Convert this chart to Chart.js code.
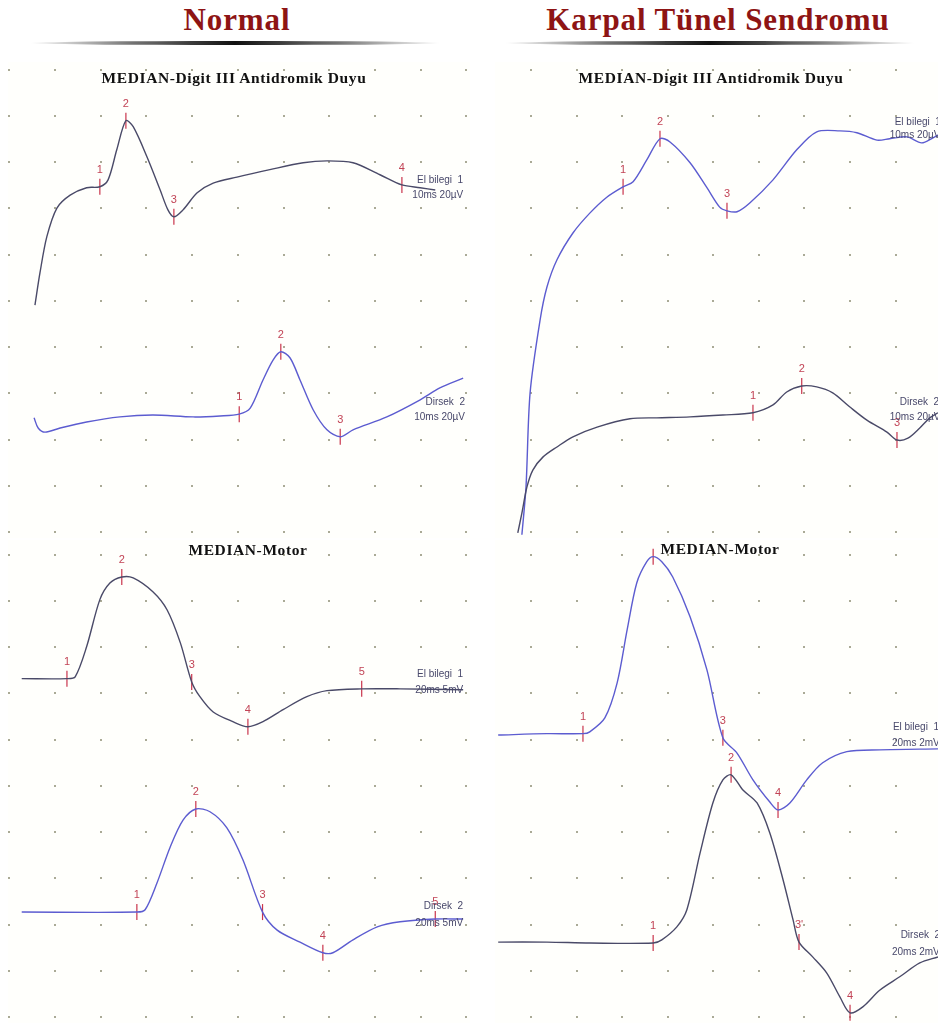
<!DOCTYPE html>
<html>
<head>
<meta charset="utf-8">
<script src="https://cdn.jsdelivr.net/npm/chart.js@4.4.1/dist/chart.umd.min.js"></script>
<style>
  body { margin: 0; width: 938px; height: 1023px; background: #fff; position: relative; overflow: hidden; font-family: 'Liberation Serif', serif; }
  .hdr { position: absolute; top: 4px; font-weight: bold; color: #8e1414; font-size: 31px; line-height: 1; text-align: center; width: 460px; letter-spacing: 0.9px; }
  .rule { position: absolute; top: 41px; height: 4px; border-radius: 50%;
          background: linear-gradient(to right, rgba(0,0,0,0), rgba(0,0,0,0.55) 25%, #111 50%, rgba(0,0,0,0.55) 75%, rgba(0,0,0,0)); }
  canvas { position: absolute; }
  .ttl { position: absolute; font-weight: bold; font-size: 15.5px; line-height: 1; color: #111; text-align: center; width: 400px; z-index: 2; letter-spacing: 0.6px; }
</style>
</head>
<body>
<div class="hdr" style="left:7px">Normal</div>
<div class="hdr" style="left:488px">Karpal Tünel Sendromu</div>
<div class="rule" style="left:30px;width:410px"></div>
<div class="rule" style="left:505px;width:410px"></div>
<div class="ttl" style="left:34px;top:70px">MEDIAN-Digit III Antidromik Duyu</div>
<div class="ttl" style="left:511px;top:70px">MEDIAN-Digit III Antidromik Duyu</div>
<div class="ttl" style="left:48px;top:542px">MEDIAN-Motor</div>
<div class="ttl" style="left:520px;top:541px">MEDIAN-Motor</div>

<script>
// values in grid divisions (x: sweep divisions, y: amplitude divisions)

// Normal - sensory, wrist (El bilegi 1)
const normSensWristX = [-0.44, -0.33, -0.18, 0.04, 0.33, 0.69, 0.98, 1.16, 1.35, 1.55, 1.71, 2.01, 2.30, 2.47, 2.60, 2.80, 3.11, 3.46, 3.98, 4.70, 5.43, 5.95, 6.52, 7.11, 7.59, 7.99, 8.32];
const normSensWristY = [4.91, 5.61, 6.39, 7.01, 7.29, 7.45, 7.47, 7.62, 8.27, 8.90, 8.77, 8.12, 7.40, 6.97, 6.82, 6.97, 7.34, 7.55, 7.68, 7.84, 7.99, 8.03, 7.99, 7.73, 7.51, 7.45, 7.40];
const normSensWristMarks = [6, 9, 14, 24];
const normSensWristTags = ['1', '2', '3', '4'];

// Normal - sensory, elbow (Dirsek 2)
const normSensElbowX = [-0.46, -0.37, -0.22, 0.11, 0.69, 1.42, 2.14, 3.02, 3.61, 4.03, 4.27, 4.55, 4.77, 4.94, 5.14, 5.36, 5.65, 5.95, 6.24, 6.52, 7.26, 7.99, 8.42, 8.93];
const normSensElbowY = [2.47, 2.25, 2.16, 2.25, 2.38, 2.49, 2.53, 2.49, 2.51, 2.55, 2.68, 3.29, 3.72, 3.90, 3.77, 3.29, 2.64, 2.21, 2.06, 2.21, 2.49, 2.86, 3.12, 3.33];
const normSensElbowMarks = [9, 13, 18];
const normSensElbowTags = ['1', '2', '3'];

// CTS - sensory, wrist
const ctsSensWristX = [-0.20, -0.11, -0.02, 0.20, 0.35, 0.57, 0.92, 1.29, 1.67, 2.02, 2.24, 2.54, 2.83, 3.05, 3.49, 3.86, 4.14, 4.30, 4.52, 4.80, 5.31, 5.83, 6.27, 6.78, 7.15, 7.59, 7.87, 8.25, 8.57, 8.82, 8.93];
const ctsSensWristY = [-0.06, 0.97, 3.01, 4.59, 5.30, 5.89, 6.47, 6.90, 7.25, 7.47, 7.58, 8.05, 8.51, 8.44, 7.99, 7.45, 7.03, 6.95, 6.93, 7.12, 7.62, 8.27, 8.66, 8.68, 8.64, 8.48, 8.51, 8.55, 8.42, 8.53, 8.59];
const ctsSensWristMarks = [9, 12, 17];
const ctsSensWristTags = ['1', '2', '3'];

// CTS - sensory, elbow
const ctsSensElbowX = [-0.29, -0.20, -0.09, 0.04, 0.26, 0.57, 0.92, 1.45, 2.17, 2.76, 3.49, 4.21, 4.87, 5.31, 5.61, 5.94, 6.27, 6.62, 6.99, 7.37, 7.81, 8.03, 8.27, 8.53, 8.75, 8.93];
const ctsSensElbowY = [-0.02, 0.41, 0.97, 1.34, 1.62, 1.84, 2.06, 2.27, 2.45, 2.47, 2.49, 2.53, 2.58, 2.75, 3.03, 3.16, 3.14, 3.01, 2.71, 2.42, 2.16, 1.99, 2.03, 2.25, 2.47, 2.58];
const ctsSensElbowMarks = [12, 15, 21];
const ctsSensElbowTags = ['1', '2', '3'];

// Normal - motor, wrist
const normMotorWristX = [-0.73, 0.26, 0.44, 0.69, 0.98, 1.20, 1.46, 1.71, 2.14, 2.45, 2.74, 2.99, 3.17, 3.46, 3.89, 4.22, 4.55, 4.99, 5.51, 5.95, 6.71, 7.55, 8.93];
const normMotorWristY = [7.32, 7.32, 7.36, 8.01, 9.03, 9.39, 9.52, 9.50, 9.20, 8.81, 8.10, 7.25, 6.93, 6.60, 6.39, 6.28, 6.39, 6.65, 6.93, 7.06, 7.10, 7.10, 7.08];
const normMotorWristMarks = [1, 6, 11, 15, 20];
const normMotorWristTags = ['1', '2', '3', '4', '5'];

// Normal - motor, elbow
const normMotorElbowX = [-0.73, 1.79, 1.97, 2.23, 2.52, 2.80, 3.08, 3.39, 3.76, 4.11, 4.54, 4.86, 5.36, 5.86, 6.08, 6.52, 7.05, 7.55, 8.32, 8.93];
const normMotorElbowY = [2.27, 2.27, 2.32, 2.90, 3.68, 4.26, 4.50, 4.44, 4.09, 3.40, 2.27, 1.88, 1.62, 1.39, 1.39, 1.67, 1.95, 2.06, 2.12, 2.12];
const normMotorElbowMarks = [1, 6, 10, 13, 18];
const normMotorElbowTags = ['1', '2', '3', '4', '5'];

// CTS - motor, wrist
const ctsMotorWristX = [-0.72, 0.35, 1.14, 1.29, 1.62, 1.89, 2.11, 2.32, 2.54, 2.68, 2.87, 3.11, 3.49, 3.86, 4.21, 4.52, 4.87, 5.24, 5.42, 5.68, 6.05, 6.40, 6.93, 7.65, 8.93];
const ctsMotorWristY = [6.10, 6.13, 6.13, 6.17, 6.47, 7.23, 8.38, 9.39, 9.85, 9.96, 9.85, 9.52, 8.66, 7.51, 6.04, 5.71, 5.13, 4.65, 4.48, 4.63, 5.13, 5.50, 5.74, 5.78, 5.80];
const ctsMotorWristMarks = [2, 9, 14, 18];
const ctsMotorWristTags = ['1', '', '3', '4'];

// CTS - motor, elbow
const ctsMotorElbowX = [-0.72, 0.35, 1.29, 2.68, 2.87, 3.20, 3.42, 3.71, 3.99, 4.21, 4.39, 4.65, 4.96, 5.24, 5.53, 5.75, 5.88, 6.18, 6.49, 6.78, 7.00, 7.28, 7.65, 8.09, 8.53, 8.93];
const ctsMotorElbowY = [1.62, 1.62, 1.60, 1.60, 1.67, 1.95, 2.32, 3.55, 4.63, 5.13, 5.24, 4.91, 4.63, 3.98, 2.97, 2.10, 1.62, 1.30, 0.95, 0.43, 0.09, 0.22, 0.58, 0.87, 1.17, 1.30];
const ctsMotorElbowMarks = [3, 10, 16, 20];
const ctsMotorElbowTags = ['1', '2', "3'", '4'];

const DARK = '#4a4a68';
const BLUE = '#5c5cd0';
const MARK = '#c9344c';

/* dotted grid + panel background */
const dotGrid = {
  id: 'dotGrid',
  beforeDatasetsDraw(chart) {
    const { ctx, scales: { x, y } } = chart;
    ctx.save();
    ctx.fillStyle = '#fffffc';
    ctx.fillRect(0, 0, chart.width, chart.height);
    ctx.fillStyle = '#aaaa96';
    for (let u = Math.ceil(x.min); u <= Math.floor(x.max); u++) {
      for (let v = Math.ceil(y.min); v <= Math.floor(y.max); v++) {
        ctx.fillRect(Math.round(x.getPixelForValue(u)) - 1, Math.round(y.getPixelForValue(v)) - 1, 2, 2);
      }
    }
    ctx.restore();
  }
};

/* numbers above the cursor marks */
const markText = {
  id: 'markText',
  afterDatasetsDraw(chart) {
    const ctx = chart.ctx;
    ctx.save();
    ctx.font = '11px "Liberation Sans", Arial, sans-serif';
    ctx.fillStyle = '#c24456';
    ctx.textAlign = 'center';
    ctx.textBaseline = 'middle';
    chart.data.datasets.forEach((ds, i) => {
      if (!ds.tags) return;
      chart.getDatasetMeta(i).data.forEach((pt, k) => {
        ctx.fillText(ds.tags[k], pt.x, pt.y - 17);
      });
    });
    ctx.restore();
  }
};

function makePanel(cfg) {
  const canvas = document.createElement('canvas');
  canvas.width = cfg.w;
  canvas.height = cfg.h;
  canvas.style.left = cfg.left + 'px';
  canvas.style.top = cfg.top + 'px';
  document.body.appendChild(canvas);

  const datasets = [];
  cfg.traces.forEach(t => {
    datasets.push({
      data: t.x.map((v, i) => ({ x: v, y: t.y[i] })),
      borderColor: t.color,
      borderWidth: 1.4,
      pointRadius: 0,
      tension: 0.3,
      fill: false,
    });
  });
  cfg.traces.forEach(t => {
    datasets.push({
      data: t.marks.map(i => ({ x: t.x[i], y: t.y[i] })),
      tags: t.tags,
      showLine: false,
      pointStyle: 'line',
      pointRotation: 90,
      pointRadius: 8,
      pointBorderColor: MARK,
      pointBorderWidth: 1.2,
      borderColor: MARK,
    });
  });

  const notes = {
    id: 'notes',
    afterDatasetsDraw(chart) {
      const { ctx, scales: { x, y } } = chart;
      ctx.save();
      ctx.font = '10px "Liberation Sans", Arial, sans-serif';
      ctx.fillStyle = '#48486a';
      ctx.textBaseline = 'middle';
      cfg.notes.forEach(n => {
        ctx.textAlign = n.align;
        ctx.fillText(n.text, x.getPixelForValue(n.x), y.getPixelForValue(n.y));
      });
      ctx.restore();
    }
  };

  new Chart(canvas, {
    type: 'line',
    data: { datasets },
    options: {
      responsive: false,
      animation: false,
      devicePixelRatio: 1,
      events: [],
      layout: { padding: 0, autoPadding: false },
      plugins: { legend: { display: false }, tooltip: { enabled: false } },
      scales: {
        x: { type: 'linear', display: false, min: cfg.xMin, max: cfg.xMax },
        y: { type: 'linear', display: false, min: cfg.yMin, max: cfg.yMax }
      }
    },
    plugins: [dotGrid, markText, notes]
  });
}

makePanel({
  left: 8, top: 62, w: 462, h: 476, xMin: -1.03, xMax: 9.08, yMin: -0.13, yMax: 10.17,
  traces: [
    { x: normSensWristX, y: normSensWristY, marks: normSensWristMarks, tags: normSensWristTags, color: DARK },
    { x: normSensElbowX, y: normSensElbowY, marks: normSensElbowMarks, tags: normSensElbowTags, color: BLUE },
  ],
  notes: [
    { text: 'El bilegi  1', x: 8.93, y: 7.62, align: 'right' },
    { text: '10ms 20µV', x: 8.93, y: 7.29, align: 'right' },
    { text: 'Dirsek  2', x: 8.97, y: 2.81, align: 'right' },
    { text: '10ms 20µV', x: 8.97, y: 2.49, align: 'right' },
  ]
});

makePanel({
  left: 495, top: 62, w: 443, h: 476, xMin: -0.79, xMax: 8.93, yMin: -0.13, yMax: 10.17,
  traces: [
    { x: ctsSensElbowX, y: ctsSensElbowY, marks: ctsSensElbowMarks, tags: ctsSensElbowTags, color: DARK },
    { x: ctsSensWristX, y: ctsSensWristY, marks: ctsSensWristMarks, tags: ctsSensWristTags, color: BLUE },
  ],
  notes: [
    { text: 'El bilegi  1', x: 7.98, y: 8.87, align: 'left' },
    { text: '10ms 20µV', x: 7.87, y: 8.59, align: 'left' },
    { text: 'Dirsek  2', x: 8.09, y: 2.81, align: 'left' },
    { text: '10ms 20µV', x: 7.87, y: 2.49, align: 'left' },
  ]
});

makePanel({
  left: 8, top: 540, w: 462, h: 483, xMin: -1.03, xMax: 9.08, yMin: -0.13, yMax: 10.32,
  traces: [
    { x: normMotorWristX, y: normMotorWristY, marks: normMotorWristMarks, tags: normMotorWristTags, color: DARK },
    { x: normMotorElbowX, y: normMotorElbowY, marks: normMotorElbowMarks, tags: normMotorElbowTags, color: BLUE },
  ],
  notes: [
    { text: 'El bilegi  1', x: 8.93, y: 7.42, align: 'right' },
    { text: '20ms 5mV', x: 8.93, y: 7.06, align: 'right' },
    { text: 'Dirsek  2', x: 8.93, y: 2.40, align: 'right' },
    { text: '20ms 5mV', x: 8.93, y: 2.03, align: 'right' },
  ]
});

makePanel({
  left: 495, top: 540, w: 443, h: 483, xMin: -0.79, xMax: 8.93, yMin: -0.13, yMax: 10.32,
  traces: [
    { x: ctsMotorElbowX, y: ctsMotorElbowY, marks: ctsMotorElbowMarks, tags: ctsMotorElbowTags, color: DARK },
    { x: ctsMotorWristX, y: ctsMotorWristY, marks: ctsMotorWristMarks, tags: ctsMotorWristTags, color: BLUE },
  ],
  notes: [
    { text: 'El bilegi  1', x: 7.94, y: 6.26, align: 'left' },
    { text: '20ms 2mV', x: 7.92, y: 5.93, align: 'left' },
    { text: 'Dirsek  2', x: 8.11, y: 1.77, align: 'left' },
    { text: '20ms 2mV', x: 7.92, y: 1.41, align: 'left' },
  ]
});
</script>
</body>
</html>
